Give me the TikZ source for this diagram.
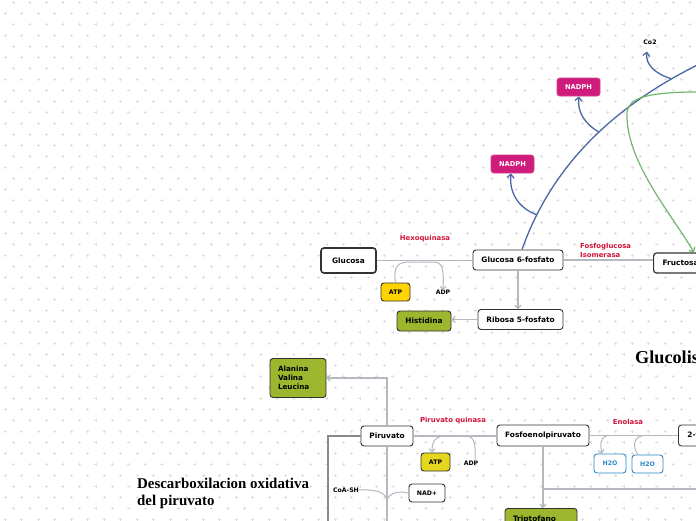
\documentclass[tikz,border=0pt]{standalone}
\usepackage{fontspec}
\newfontfamily\dv{DejaVu Sans}
\newfontfamily\ser{Liberation Serif}
\usetikzlibrary{arrows.meta}
\definecolor{gridc}{HTML}{DFDFDF}
\definecolor{boxc}{HTML}{333333}
\definecolor{grayc}{HTML}{B5B8BE}
\definecolor{dkgray}{HTML}{8A8A8A}
\definecolor{bluel}{HTML}{4A67A6}
\definecolor{greenl}{HTML}{72B86A}
\definecolor{magc}{HTML}{CF1B7B}
\definecolor{yel1}{HTML}{FFD400}
\definecolor{yel2}{HTML}{E4D71E}
\definecolor{grnbox}{HTML}{9CB62E}
\definecolor{redc}{HTML}{D2143A}
\definecolor{h2oc}{HTML}{2A88C8}
\begin{document}
\begin{tikzpicture}[x=1pt,y=-1pt,
  box/.style={draw=boxc, fill=white, rounded corners=3pt, line width=0.9pt, inner sep=0pt,
    font=\dv\bfseries\fontsize{7.4}{9}\selectfont, text=black},
  sbox/.style={box, font=\dv\bfseries\fontsize{6.2}{8}\selectfont},
  gbox/.style={box, fill=grnbox},
  magbox/.style={sbox, fill=magc, draw=magc!85!white, text=white, font=\dv\bfseries\fontsize{6.7}{8}\selectfont},
  h2obox/.style={sbox, draw=h2oc, text=h2oc},
  lab/.style={inner sep=0pt, font=\dv\bfseries\fontsize{6.2}{8}\selectfont, text=black},
  enz/.style={inner sep=0pt, font=\dv\bfseries\fontsize{6.9}{9}\selectfont, text=redc},
  con/.style={draw=grayc, line width=1.2pt},
  arr/.style={-{Straight Barb[length=3pt,width=6pt]}},
  bl/.style={draw=bluel, line width=1.3pt},
  barr/.style={-{Straight Barb[length=3.5pt,width=7pt]}},
  ttl/.style={inner sep=0pt, font=\ser\bfseries\fontsize{14.9}{17}\selectfont, text=black, align=left}
]
\useasboundingbox (0,0) rectangle (696,520);
\clip (0,0) rectangle (696,520);
\fill[white] (0,0) rectangle (696,520);
% background grid of small crosses
\foreach \k in {0,...,23} {
  \draw[gridc, line width=0.5pt] \foreach \i in {0,...,42} {
    ({13.3+16.5*\i},{2.7+22*\k}) +(-1.5,0) -- +(1.5,0) +(0,-1.5) -- +(0,1.5)
    ({5+16.5*\i},{13.7+22*\k}) +(-1.5,0) -- +(1.5,0) +(0,-1.5) -- +(0,1.5)
  };
}

% ---------- upper part ----------
\node[box, line width=1.6pt, minimum width=55pt, minimum height=25pt] (glc) at (348.5,260.5) {Glucosa};
\node[box, minimum width=90pt, minimum height=20pt] (g6p) at (518,260) {Glucosa 6-fosfato};
\node[box, line width=1.2pt, anchor=west, inner xsep=9pt, minimum height=20pt] (fru) at (653,263) {Fructosa 6-fosfato};
\node[box, minimum width=85pt, minimum height=20pt] (rib) at (520.5,319.5) {Ribosa 5-fosfato};
\node[gbox, minimum width=54pt, minimum height=20pt] (his) at (424,321) {Histidina};
\node[sbox, fill=yel1, minimum width=29pt, minimum height=18pt] (atp1) at (395.5,292) {ATP};
\node[lab] (adp1) at (443,292.5) {ADP};
\node[enz] (hexo) at (425,238.5) {Hexoquinasa};
\node[enz, anchor=west, align=left] (pgi) at (580,250.5) {Fosfoglucosa\\Isomerasa};
\node[magbox, minimum width=43pt, minimum height=18pt] (nadph1) at (512.5,164) {NADPH};
\node[magbox, minimum width=43pt, minimum height=18pt] (nadph2) at (578.5,87) {NADPH};
\node[lab] (co2) at (650,42.5) {Co2};

\draw[con] (glc.east) -- (glc.east -| g6p.west);
\draw[con] (g6p.east) -- (g6p.east -| fru.west);
\draw[con, arr] (g6p.south) -- (g6p.south |- rib.north);
\draw[con, arr] (rib.west) -- (rib.west -| his.east);
\draw[con, line width=1pt, arr] (atp1.north) .. controls (393,266) and (398,262) .. (410,262)
   -- (434,262) .. controls (442,262) and (444,268) .. (adp1.north);

% blue pentose pathway curve
\coordinate (bout) at (712,58);
\draw[bl] ([xshift=4pt]g6p.north) .. controls (550,170) and (610,105) .. (bout)
   coordinate[pos=0.15] (b1) coordinate[pos=0.55] (b2) coordinate[pos=0.86] (b3);
\draw[bl, barr] (b1) .. controls (518,208) and (509,192) .. (nadph1.south -| 511,0);
\draw[bl, barr] (b2) .. controls (585,124) and (577,112) .. (nadph2.south -| 579,0);
\draw[bl, barr] (b3) .. controls (655,74) and (645,64) .. ([yshift=-6.5pt]co2.south -| 647,0);

% green curve
\coordinate (gin) at (720,92);
\draw[draw=greenl, line width=1.2pt, -{Straight Barb[length=3.5pt,width=7pt]}]
  (gin) .. controls (650,91) and (630,96) .. (627,112)
  .. controls (625,160) and (670,212) .. ([xshift=41pt]fru.north west);

% ---------- lower part ----------
\node[gbox, minimum height=39pt, text width=40pt, inner xsep=8pt, align=left,
  font=\dv\bfseries\fontsize{7.2}{9}\selectfont] (ala) at (298,378) {Alanina\\Valina\\Leucina};
\node[box, minimum width=52pt, minimum height=20pt] (pir) at (387,436) {Piruvato};
\node[box, minimum width=92pt, minimum height=21pt] (pep) at (543,435.5) {Fosfoenolpiruvato};
\node[box, anchor=west, inner xsep=9pt, minimum height=21pt] (pg2) at (678,435.5) {2-fosfoglicerato};
\node[sbox, fill=yel2, minimum width=29pt, minimum height=18pt] (atp2) at (435.5,462) {ATP};
\node[lab] (adp2) at (471,463.5) {ADP};
\node[enz] (pk) at (453,420.5) {Piruvato quinasa};
\node[enz] (eno) at (628,421.5) {Enolasa};
\node[h2obox, minimum width=32pt, minimum height=19pt] (h2o1) at (610,463.5) {H2O};
\node[h2obox, minimum width=31pt, minimum height=18pt] (h2o2) at (647.5,464) {H2O};
\node[lab] (coa) at (346,490) {CoA-SH};
\node[sbox, minimum width=36pt, minimum height=18pt] (nad) at (427,493) {NAD+};
\node[gbox, anchor=north, minimum height=22pt, text width=56pt, inner xsep=8pt, align=left] (trp) at (541,508) {Triptofano};

\node[ttl, anchor=base west, font=\ser\bfseries\fontsize{18.2}{20}\selectfont] (tglu) at (635,363) {Glucolisis};
\node[ttl, anchor=base west] (tdesc) at (137,505) {Descarboxilacion oxidativa\\del piruvato};

\coordinate (pb1) at (328,530);
\coordinate (pb2) at (387,530);
\coordinate (hr) at (710,489);
\draw[con, arr] (pir.north) -- (pir.north |- ala.east) -- (ala.east);
\draw[draw=dkgray, line width=1.2pt] (pir.west) -| (pb1);
\draw[con] (pir.south) -- (pb2);
\draw[con] (pir.east) -- (pir.east -| pep.west);
\draw[con, arr] (pep.south) -- (pep.south |- trp.north);
\draw[con] (pep.south |- hr) -- (hr);
\draw[con] (pep.east) -- (pep.east -| pg2.west);

\draw[con, line width=1pt, arr] (447,436) .. controls (436,436) and (432,440) .. (atp2.north -| 432,0);
\draw[con, line width=1pt] (adp2.north -| 475,0) .. controls (476,442) and (474,436) .. (465,436);
\draw[con, line width=1pt, arr] (607,436) .. controls (600,437) and (600,445) .. (h2o1.north -| 602,0);
\draw[con, line width=1pt] (h2o2.north -| 638,0) .. controls (632,447) and (634,437) .. (642,436);
\draw[con, line width=1pt] (coa.east) .. controls (380,489) and (387,494) .. (387,502);
\draw[con, line width=1pt] (nad.west) .. controls (395,490) and (387,495) .. (387,502);
\end{tikzpicture}
\end{document}
